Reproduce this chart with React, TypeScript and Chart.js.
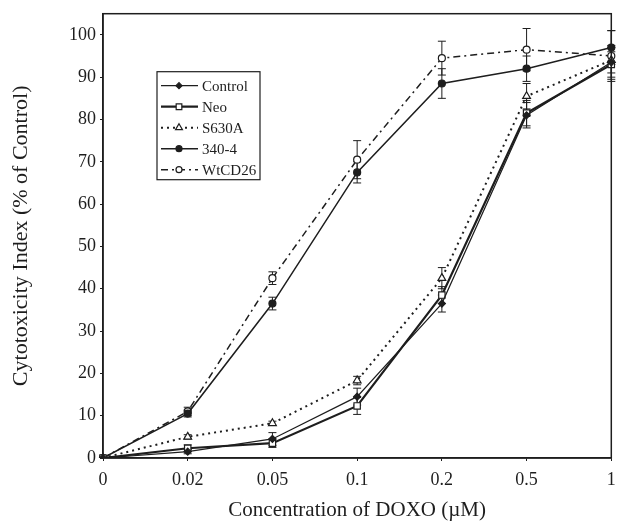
import React, { useEffect, useRef } from 'react';
import { Chart, registerables } from 'chart.js';
import { drawPoint } from 'chart.js/helpers';

Chart.register(...registerables);

const concentrations = ['0', '0.02', '0.05', '0.1', '0.2', '0.5', '1'];
const yTickValues = [0, 10, 20, 30, 40, 50, 60, 70, 80, 90, 100];

const controlValues = [0, 1.5, 4.5, 14.5, 36.5, 81, 93.5];
const controlErrors = [0, 0.5, 1.5, 2, 2, 3, 4];
const neoValues = [0, 2.3, 3.5, 12.3, 38.5, 81.5, 93];
const neoErrors = [0, 0.8, 1, 2, 2, 3, 3];
const s630aValues = [0, 5, 8.2, 18.3, 42.5, 85.5, 94];
const s630aErrors = [0, 0.5, 0.5, 1, 2.5, 3, 3];
const mut3404Values = [0, 10.5, 36.5, 67.5, 88.5, 92, 97];
const mut3404Errors = [0, 0.8, 1.5, 2.5, 3.5, 3, 4];
const wtcd26Values = [0, 11, 42.5, 70.5, 94.5, 96.5, 95];
const wtcd26Errors = [0, 1, 1.5, 4.5, 4, 5, 6];

const FONT = '"Liberation Serif", "Times New Roman", serif';
const INK = '#1e1e1e';

const errorBarPlugin = {
  id: 'errorBars',
  beforeDatasetsDraw(chart: any) {
    const ctx = chart.ctx;
    const yScale = chart.scales.y;
    ctx.save();
    ctx.strokeStyle = INK;
    ctx.lineWidth = 1;
    chart.data.datasets.forEach((ds: any, di: number) => {
      const meta = chart.getDatasetMeta(di);
      const errs: number[] = ds.errors || [];
      meta.data.forEach((pt: any, i: number) => {
        const e = errs[i];
        if (!e) return;
        const v = ds.data[i];
        const yt = yScale.getPixelForValue(v + e);
        const yb = yScale.getPixelForValue(v - e);
        const x = pt.x;
        ctx.beginPath();
        ctx.moveTo(x, yt);
        ctx.lineTo(x, yb);
        ctx.moveTo(x - 4, yt);
        ctx.lineTo(x + 4, yt);
        ctx.moveTo(x - 4, yb);
        ctx.lineTo(x + 4, yb);
        ctx.stroke();
      });
    });
    ctx.restore();
  },
};

const frameAndLegendPlugin = {
  id: 'frameLegend',
  afterDraw(chart: any) {
    const ctx = chart.ctx;
    const { left, top, right, bottom } = chart.chartArea;
    ctx.save();
    ctx.strokeStyle = INK;
    ctx.lineWidth = 1.5;
    ctx.strokeRect(left, top, right - left, bottom - top);

    const x0 = left + 54;
    const y0 = top + 58;
    const w = 103;
    const h = 108;
    ctx.fillStyle = '#fff';
    ctx.fillRect(x0, y0, w, h);
    ctx.lineWidth = 1.2;
    ctx.strokeRect(x0, y0, w, h);
    chart.data.datasets.forEach((ds: any, i: number) => {
      const y = y0 + 14 + i * 21;
      ctx.strokeStyle = INK;
      ctx.setLineDash(ds.borderDash || []);
      ctx.lineWidth = ds.borderWidth;
      ctx.beginPath();
      ctx.moveTo(x0 + 4, y);
      ctx.lineTo(x0 + 41, y);
      ctx.stroke();
      ctx.setLineDash([]);
      ctx.fillStyle = ds.pointBackgroundColor;
      ctx.strokeStyle = ds.pointBorderColor;
      ctx.lineWidth = 1.2;
      drawPoint(ctx, { pointStyle: ds.pointStyle, radius: ds.pointRadius - 0.5, borderWidth: 1.2, rotation: 0 } as any, x0 + 22, y);
      ctx.fillStyle = INK;
      ctx.font = `15px ${FONT}`;
      ctx.textBaseline = 'middle';
      ctx.textAlign = 'left';
      ctx.fillText(ds.label, x0 + 45, y + 1);
    });
    ctx.restore();
  },
};

export default function App() {
  const canvasRef = useRef<HTMLCanvasElement | null>(null);

  useEffect(() => {
    if (!canvasRef.current) return;
    const mk = (label: string, data: number[], errors: number[], style: any) => ({
      label,
      data,
      errors,
      borderColor: INK,
      pointBorderColor: INK,
      pointBorderWidth: 1.2,
      tension: 0,
      fill: false,
      ...style,
    });
    const chart = new Chart(canvasRef.current, {
      type: 'line',
      data: {
        labels: concentrations,
        datasets: [
          mk('Control', controlValues, controlErrors, {
            borderWidth: 1.2,
            pointStyle: 'rectRot',
            pointRadius: 3.5,
            pointBackgroundColor: INK,
          }),
          mk('Neo', neoValues, neoErrors, {
            borderWidth: 2.2,
            pointStyle: 'rect',
            pointRadius: 4.5,
            pointBackgroundColor: '#fff',
          }),
          mk('S630A', s630aValues, s630aErrors, {
            borderWidth: 2,
            borderDash: [2, 4],
            pointStyle: 'triangle',
            pointRadius: 4.5,
            pointBackgroundColor: '#fff',
          }),
          mk('340-4', mut3404Values, mut3404Errors, {
            borderWidth: 1.5,
            pointStyle: 'circle',
            pointRadius: 3.5,
            pointBackgroundColor: INK,
          }),
          mk('WtCD26', wtcd26Values, wtcd26Errors, {
            borderWidth: 1.5,
            borderDash: [7, 4, 2, 4],
            pointStyle: 'circle',
            pointRadius: 3.5,
            pointBackgroundColor: '#fff',
          }),
        ] as any,
      },
      options: {
        animation: false,
        responsive: true,
        maintainAspectRatio: false,
        layout: { padding: { top: 4, right: 4, left: 0, bottom: 0 } },
        plugins: {
          legend: { display: false },
          tooltip: { enabled: false },
        },
        scales: {
          x: {
            type: 'category',
            offset: false,
            afterFit(scale: any) {
              scale.height = 67;
              scale.paddingLeft = 0;
              scale.paddingRight = 0;
            },
            grid: { drawOnChartArea: false, drawTicks: true, tickLength: 3, color: INK },
            border: { color: INK, width: 1.5 },
            ticks: { color: INK, font: { family: FONT, size: 18 }, padding: 8, maxRotation: 0 },
            title: {
              display: true,
              text: 'Concentration of DOXO (\u00b5M)',
              color: INK,
              font: { family: FONT, size: 21 },
              padding: { top: 0, bottom: 2 },
            },
          },
          y: {
            type: 'linear',
            min: 0,
            max: 105,
            afterFit(scale: any) {
              scale.width = 95;
              scale.paddingTop = 0;
              scale.paddingBottom = 0;
            },
            afterBuildTicks(scale: any) {
              scale.ticks = yTickValues.map((v) => ({ value: v }));
            },
            grid: { drawOnChartArea: false, drawTicks: true, tickLength: 3, color: INK },
            border: { color: INK, width: 1.5 },
            ticks: { color: INK, font: { family: FONT, size: 18 }, padding: 4 },
            title: {
              display: true,
              text: 'Cytotoxicity Index (% of Control)',
              color: INK,
              font: { family: FONT, size: 22 },
              padding: { top: 0, bottom: 0 },
            },
          },
        },
      },
      plugins: [errorBarPlugin, frameAndLegendPlugin],
    });
    return () => chart.destroy();
  }, []);

  return (
    <div style={{ width: 609, height: 517, background: '#fff' }}>
      <canvas ref={canvasRef} />
    </div>
  );
}
